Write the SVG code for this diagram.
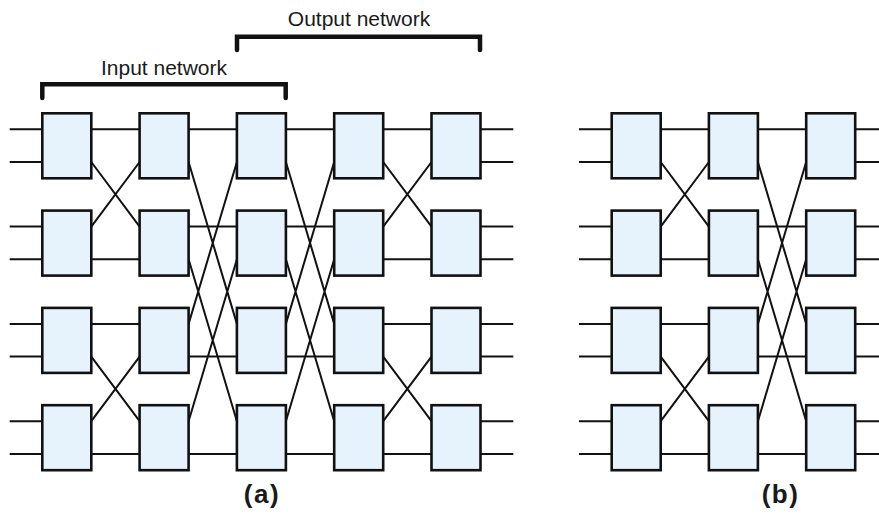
<svg xmlns="http://www.w3.org/2000/svg" width="879" height="516" viewBox="0 0 879 516">
<style>
.box{fill:#e6f3fc;stroke:#111;stroke-width:2.6}
.w{fill:none;stroke:#111;stroke-width:2}
.br{fill:none;stroke:#111;stroke-width:4.5;stroke-linecap:round;stroke-linejoin:miter}
.lbl{font-family:"Liberation Sans",Arial,sans-serif;font-size:21px;fill:#1a1a1a;text-anchor:middle}
.cap{font-family:"Liberation Sans",Arial,sans-serif;font-size:26px;font-weight:bold;letter-spacing:1.5px;fill:#1a1a1a;text-anchor:middle}
</style>
<g id="connectors">
<path class="w" d="M9.7,129.3H42.3M9.7,162H42.3M9.7,226.6H42.3M9.7,259.3H42.3M9.7,323.9H42.3M9.7,356.6H42.3M9.7,421.2H42.3M9.7,453.9H42.3"/>
<path class="w" d="M91.3,129.3H139.6M91.3,162L139.6,226.6M91.3,226.6L139.6,162M91.3,259.3H139.6M91.3,323.9H139.6M91.3,356.6L139.6,421.2M91.3,421.2L139.6,356.6M91.3,453.9H139.6"/>
<path class="w" d="M188.6,129.3H236.9M188.6,162L236.9,323.9M188.6,323.9L236.9,162M188.6,226.6H236.9M188.6,259.3L236.9,421.2M188.6,421.2L236.9,259.3M188.6,356.6H236.9M188.6,453.9H236.9"/>
<path class="w" d="M285.9,129.3H334.2M285.9,162L334.2,323.9M285.9,323.9L334.2,162M285.9,226.6H334.2M285.9,259.3L334.2,421.2M285.9,421.2L334.2,259.3M285.9,356.6H334.2M285.9,453.9H334.2"/>
<path class="w" d="M383.2,129.3H431.5M383.2,162L431.5,226.6M383.2,226.6L431.5,162M383.2,259.3H431.5M383.2,323.9H431.5M383.2,356.6L431.5,421.2M383.2,421.2L431.5,356.6M383.2,453.9H431.5"/>
<path class="w" d="M480.5,129.3H513.3M480.5,162H513.3M480.5,226.6H513.3M480.5,259.3H513.3M480.5,323.9H513.3M480.5,356.6H513.3M480.5,421.2H513.3M480.5,453.9H513.3"/>
<path class="w" d="M579,129.3H611.7M579,162H611.7M579,226.6H611.7M579,259.3H611.7M579,323.9H611.7M579,356.6H611.7M579,421.2H611.7M579,453.9H611.7"/>
<path class="w" d="M660.7,129.3H708.9M660.7,162L708.9,226.6M660.7,226.6L708.9,162M660.7,259.3H708.9M660.7,323.9H708.9M660.7,356.6L708.9,421.2M660.7,421.2L708.9,356.6M660.7,453.9H708.9"/>
<path class="w" d="M757.9,129.3H806.2M757.9,162L806.2,323.9M757.9,323.9L806.2,162M757.9,226.6H806.2M757.9,259.3L806.2,421.2M757.9,421.2L806.2,259.3M757.9,356.6H806.2M757.9,453.9H806.2"/>
<path class="w" d="M855.2,129.3H888M855.2,162H888M855.2,226.6H888M855.2,259.3H888M855.2,323.9H888M855.2,356.6H888M855.2,421.2H888M855.2,453.9H888"/>
</g>
<g id="brackets">
<path class="br" d="M42.3,98V84.3H285.7V98"/>
<path class="br" d="M237,50V36.8H480V50"/>
</g>
<g id="labels">
<text class="lbl" x="164" y="74.5">Input network</text>
<text class="lbl" x="359" y="26">Output network</text>
<text class="cap" x="262" y="503">(a)</text>
<text class="cap" x="780.5" y="503">(b)</text>
</g>
<g id="a-c1r1"><rect class="box" x="42.3" y="113.3" width="49" height="65"/></g>
<g id="a-c1r2"><rect class="box" x="42.3" y="210.6" width="49" height="65"/></g>
<g id="a-c1r3"><rect class="box" x="42.3" y="307.9" width="49" height="65"/></g>
<g id="a-c1r4"><rect class="box" x="42.3" y="405.2" width="49" height="65"/></g>
<g id="a-c2r1"><rect class="box" x="139.6" y="113.3" width="49" height="65"/></g>
<g id="a-c2r2"><rect class="box" x="139.6" y="210.6" width="49" height="65"/></g>
<g id="a-c2r3"><rect class="box" x="139.6" y="307.9" width="49" height="65"/></g>
<g id="a-c2r4"><rect class="box" x="139.6" y="405.2" width="49" height="65"/></g>
<g id="a-c3r1"><rect class="box" x="236.9" y="113.3" width="49" height="65"/></g>
<g id="a-c3r2"><rect class="box" x="236.9" y="210.6" width="49" height="65"/></g>
<g id="a-c3r3"><rect class="box" x="236.9" y="307.9" width="49" height="65"/></g>
<g id="a-c3r4"><rect class="box" x="236.9" y="405.2" width="49" height="65"/></g>
<g id="a-c4r1"><rect class="box" x="334.2" y="113.3" width="49" height="65"/></g>
<g id="a-c4r2"><rect class="box" x="334.2" y="210.6" width="49" height="65"/></g>
<g id="a-c4r3"><rect class="box" x="334.2" y="307.9" width="49" height="65"/></g>
<g id="a-c4r4"><rect class="box" x="334.2" y="405.2" width="49" height="65"/></g>
<g id="a-c5r1"><rect class="box" x="431.5" y="113.3" width="49" height="65"/></g>
<g id="a-c5r2"><rect class="box" x="431.5" y="210.6" width="49" height="65"/></g>
<g id="a-c5r3"><rect class="box" x="431.5" y="307.9" width="49" height="65"/></g>
<g id="a-c5r4"><rect class="box" x="431.5" y="405.2" width="49" height="65"/></g>
<g id="b-c1r1"><rect class="box" x="611.7" y="113.3" width="49" height="65"/></g>
<g id="b-c1r2"><rect class="box" x="611.7" y="210.6" width="49" height="65"/></g>
<g id="b-c1r3"><rect class="box" x="611.7" y="307.9" width="49" height="65"/></g>
<g id="b-c1r4"><rect class="box" x="611.7" y="405.2" width="49" height="65"/></g>
<g id="b-c2r1"><rect class="box" x="708.9" y="113.3" width="49" height="65"/></g>
<g id="b-c2r2"><rect class="box" x="708.9" y="210.6" width="49" height="65"/></g>
<g id="b-c2r3"><rect class="box" x="708.9" y="307.9" width="49" height="65"/></g>
<g id="b-c2r4"><rect class="box" x="708.9" y="405.2" width="49" height="65"/></g>
<g id="b-c3r1"><rect class="box" x="806.2" y="113.3" width="49" height="65"/></g>
<g id="b-c3r2"><rect class="box" x="806.2" y="210.6" width="49" height="65"/></g>
<g id="b-c3r3"><rect class="box" x="806.2" y="307.9" width="49" height="65"/></g>
<g id="b-c3r4"><rect class="box" x="806.2" y="405.2" width="49" height="65"/></g>
</svg>
